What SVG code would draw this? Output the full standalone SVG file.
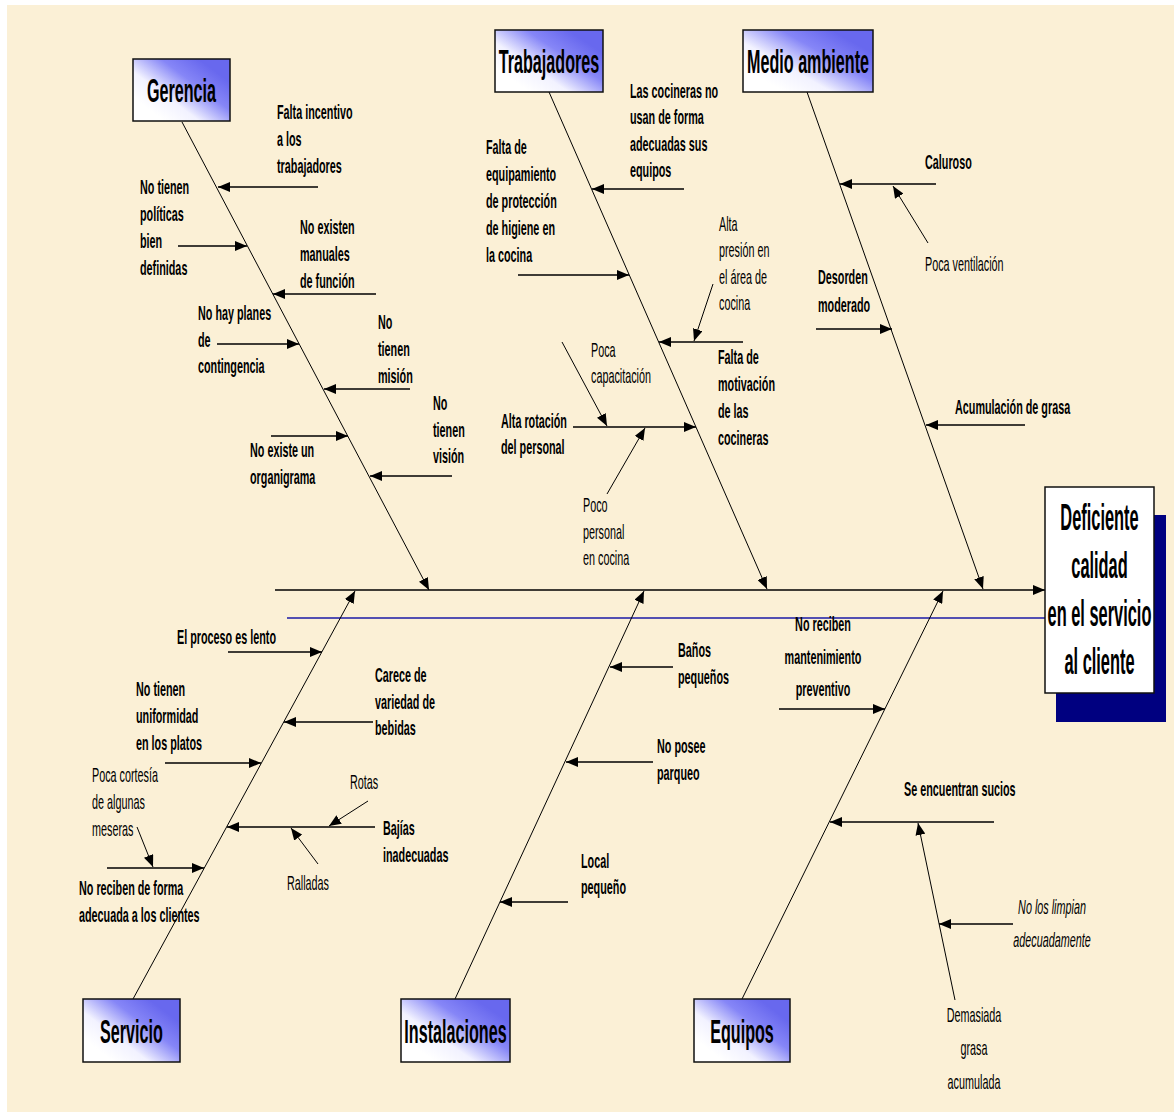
<svg xmlns="http://www.w3.org/2000/svg" width="1174" height="1112" viewBox="0 0 1174 1112">
<defs>
<style>
.b{font-family:"Liberation Sans",Arial,sans-serif;font-weight:bold;font-size:20px;fill:#000}
.r{font-family:"Liberation Sans",Arial,sans-serif;font-weight:normal;font-size:20px;fill:#000}
.i{font-family:"Liberation Sans",Arial,sans-serif;font-style:italic;font-size:20px;fill:#000}
.t{font-family:"Liberation Sans",Arial,sans-serif;font-weight:bold;font-size:34px;fill:#000;text-anchor:middle}
.e{font-family:"Liberation Sans",Arial,sans-serif;font-weight:bold;font-size:37px;fill:#000;text-anchor:middle}
.bone{stroke:#000;stroke-width:1;fill:none;marker-end:url(#ah)}
.arr{stroke:#000;stroke-width:1.6;fill:none;marker-end:url(#ah)}
.thin{stroke:#000;stroke-width:1;fill:none;marker-end:url(#ah)}
.box{fill:url(#cat);stroke:#111;stroke-width:1.5}
</style>
<linearGradient id="cat" x1="0.15" y1="0.8" x2="0.85" y2="0.2">
<stop offset="0" stop-color="#ffffff"/>
<stop offset="0.3" stop-color="#f2f2ff"/>
<stop offset="0.68" stop-color="#8686f7"/>
<stop offset="1" stop-color="#6868ee"/>
</linearGradient>
<marker id="ah" markerUnits="userSpaceOnUse" viewBox="0 0 12 10" refX="12" refY="5" markerWidth="12" markerHeight="10" orient="auto">
<path d="M0,0 L12,5 L0,10 z" fill="#000"/>
</marker>
</defs>

<g id="background">
<rect x="0" y="0" width="1174" height="1112" fill="#ffffff"/>
<rect x="7" y="5" width="1167" height="1107" fill="#fbf0d6"/>
</g>

<g id="connectors">
<line x1="275" y1="590" x2="1045" y2="590" class="arr"/>
<line x1="287" y1="618" x2="1045" y2="618" stroke="#1a1aa6" stroke-width="1.5"/>
<line x1="182" y1="122" x2="429" y2="590" class="bone"/>
<line x1="549" y1="92" x2="767" y2="589" class="bone"/>
<line x1="807" y1="92" x2="983" y2="589" class="bone"/>
<line x1="133" y1="999" x2="355" y2="591" class="bone"/>
<line x1="455" y1="999" x2="644" y2="591" class="bone"/>
<line x1="742" y1="999" x2="943" y2="591" class="bone"/>
<!-- Gerencia -->
<line x1="318" y1="187" x2="218" y2="187" class="arr"/>
<line x1="178" y1="246" x2="247" y2="246" class="arr"/>
<line x1="376" y1="294" x2="273" y2="294" class="arr"/>
<line x1="217" y1="344" x2="299" y2="344" class="arr"/>
<line x1="410" y1="389" x2="324" y2="389" class="arr"/>
<line x1="271" y1="436" x2="348" y2="436" class="arr"/>
<line x1="452" y1="476" x2="370" y2="476" class="arr"/>
<!-- Trabajadores -->
<line x1="684" y1="189" x2="592" y2="189" class="arr"/>
<line x1="518" y1="275" x2="629" y2="275" class="arr"/>
<line x1="743" y1="342" x2="659" y2="342" class="arr"/>
<line x1="713" y1="284" x2="694" y2="341" class="thin"/>
<line x1="573" y1="427" x2="696" y2="427" class="arr"/>
<line x1="562" y1="342" x2="607" y2="426" class="thin"/>
<line x1="607" y1="494" x2="645" y2="428" class="thin"/>
<!-- Medio ambiente -->
<line x1="936" y1="184" x2="840" y2="184" class="arr"/>
<line x1="928" y1="243" x2="893" y2="186" class="thin"/>
<line x1="816" y1="329" x2="892" y2="329" class="arr"/>
<line x1="1025" y1="425" x2="926" y2="425" class="arr"/>
<!-- Servicio -->
<line x1="228" y1="652" x2="322" y2="652" class="arr"/>
<line x1="373" y1="722" x2="284" y2="722" class="arr"/>
<line x1="165" y1="763" x2="261" y2="763" class="arr"/>
<line x1="375" y1="827" x2="227" y2="827" class="arr"/>
<line x1="368" y1="801" x2="329" y2="826" class="thin"/>
<line x1="318" y1="864" x2="291" y2="828" class="thin"/>
<line x1="107" y1="868" x2="204" y2="868" class="arr"/>
<line x1="137" y1="827" x2="153" y2="867" class="thin"/>
<!-- Instalaciones -->
<line x1="673" y1="667" x2="610" y2="667" class="arr"/>
<line x1="653" y1="762" x2="566" y2="762" class="arr"/>
<line x1="568" y1="902" x2="500" y2="902" class="arr"/>
<!-- Equipos -->
<line x1="779" y1="709" x2="885" y2="709" class="arr"/>
<line x1="994" y1="822" x2="830" y2="822" class="arr"/>
<line x1="955" y1="1000" x2="918" y2="823" class="thin"/>
<line x1="1013" y1="924" x2="939" y2="924" class="arr"/>
</g>

<g id="node-gerencia">
<rect x="133" y="59" width="97" height="62" class="box"/>
<text class="t" transform="translate(181.5,102) scale(0.475,1)">Gerencia</text>
</g>
<g id="node-trabajadores">
<rect x="495" y="30" width="108" height="62" class="box"/>
<text class="t" transform="translate(549,73) scale(0.475,1)">Trabajadores</text>
</g>
<g id="node-medio-ambiente">
<rect x="743" y="30" width="130" height="62" class="box"/>
<text class="t" transform="translate(808,73) scale(0.475,1)">Medio ambiente</text>
</g>
<g id="node-servicio">
<rect x="83" y="999" width="97" height="63" class="box"/>
<text class="t" transform="translate(131.5,1043) scale(0.475,1)">Servicio</text>
</g>
<g id="node-instalaciones">
<rect x="401" y="999" width="109" height="63" class="box"/>
<text class="t" transform="translate(455.5,1043) scale(0.475,1)">Instalaciones</text>
</g>
<g id="node-equipos">
<rect x="694" y="999" width="96" height="63" class="box"/>
<text class="t" transform="translate(742,1043) scale(0.475,1)">Equipos</text>
</g>
<g id="node-efecto">
<rect x="1056" y="515" width="110" height="207" fill="#000080"/>
<rect x="1045" y="487" width="109" height="206" fill="#ffffff" stroke="#111" stroke-width="1.5"/>
<text class="e" transform="translate(1099.5,530) scale(0.443,1)"><tspan x="0">Deficiente</tspan><tspan x="0" dy="48">calidad</tspan><tspan x="0" dy="48">en el servicio</tspan><tspan x="0" dy="48">al cliente</tspan></text>
</g>

<g id="causes-gerencia">
<text class="b" transform="translate(277,119) scale(0.54,1)"><tspan x="0">Falta incentivo</tspan><tspan x="0" dy="27">a los</tspan><tspan x="0" dy="27">trabajadores</tspan></text>
<text class="b" transform="translate(140,194) scale(0.54,1)"><tspan x="0">No tienen</tspan><tspan x="0" dy="27">políticas</tspan><tspan x="0" dy="27">bien</tspan><tspan x="0" dy="27">definidas</tspan></text>
<text class="b" transform="translate(300,234) scale(0.54,1)"><tspan x="0">No existen</tspan><tspan x="0" dy="27">manuales</tspan><tspan x="0" dy="27">de función</tspan></text>
<text class="b" transform="translate(198,320) scale(0.54,1)"><tspan x="0">No hay planes</tspan><tspan x="0" dy="27">de</tspan><tspan x="0" dy="26">contingencia</tspan></text>
<text class="b" transform="translate(378,329) scale(0.54,1)"><tspan x="0">No</tspan><tspan x="0" dy="27">tienen</tspan><tspan x="0" dy="27">misión</tspan></text>
<text class="b" transform="translate(250,457) scale(0.54,1)"><tspan x="0">No existe un</tspan><tspan x="0" dy="27">organigrama</tspan></text>
<text class="b" transform="translate(433,410) scale(0.54,1)"><tspan x="0">No</tspan><tspan x="0" dy="27">tienen</tspan><tspan x="0" dy="26">visión</tspan></text>
</g>

<g id="causes-trabajadores">
<text class="b" transform="translate(630,98) scale(0.54,1)"><tspan x="0">Las cocineras no</tspan><tspan x="0" dy="26.5">usan de forma</tspan><tspan x="0" dy="26.5">adecuadas sus</tspan><tspan x="0" dy="26.5">equipos</tspan></text>
<text class="b" transform="translate(486,154) scale(0.54,1)"><tspan x="0">Falta de</tspan><tspan x="0" dy="27">equipamiento</tspan><tspan x="0" dy="27">de protección</tspan><tspan x="0" dy="27">de higiene en</tspan><tspan x="0" dy="27">la cocina</tspan></text>
<text class="r" transform="translate(719,231) scale(0.54,1)"><tspan x="0">Alta</tspan><tspan x="0" dy="26.5">presión en</tspan><tspan x="0" dy="26.5">el área de</tspan><tspan x="0" dy="26.5">cocina</tspan></text>
<text class="b" transform="translate(718,364) scale(0.54,1)"><tspan x="0">Falta de</tspan><tspan x="0" dy="27">motivación</tspan><tspan x="0" dy="27">de las</tspan><tspan x="0" dy="27">cocineras</tspan></text>
<text class="b" transform="translate(501,428) scale(0.54,1)"><tspan x="0">Alta rotación</tspan><tspan x="0" dy="26">del personal</tspan></text>
<text class="r" transform="translate(591,357) scale(0.54,1)"><tspan x="0">Poca</tspan><tspan x="0" dy="26">capacitación</tspan></text>
<text class="r" transform="translate(583,512) scale(0.54,1)"><tspan x="0">Poco</tspan><tspan x="0" dy="27">personal</tspan><tspan x="0" dy="26">en cocina</tspan></text>
</g>

<g id="causes-medio-ambiente">
<text class="b" transform="translate(925,169) scale(0.54,1)">Caluroso</text>
<text class="r" transform="translate(925,271) scale(0.54,1)">Poca ventilación</text>
<text class="b" transform="translate(818,284) scale(0.54,1)"><tspan x="0">Desorden</tspan><tspan x="0" dy="28">moderado</tspan></text>
<text class="b" transform="translate(955,414) scale(0.54,1)">Acumulación de grasa</text>
</g>

<g id="causes-servicio">
<text class="b" transform="translate(177,644) scale(0.54,1)">El proceso es lento</text>
<text class="b" transform="translate(375,682) scale(0.54,1)"><tspan x="0">Carece de</tspan><tspan x="0" dy="27">variedad de</tspan><tspan x="0" dy="26">bebidas</tspan></text>
<text class="b" transform="translate(136,696) scale(0.54,1)"><tspan x="0">No tienen</tspan><tspan x="0" dy="27">uniformidad</tspan><tspan x="0" dy="27">en los platos</tspan></text>
<text class="r" transform="translate(92,782) scale(0.54,1)"><tspan x="0">Poca cortesía</tspan><tspan x="0" dy="27">de algunas</tspan><tspan x="0" dy="27">meseras</tspan></text>
<text class="r" transform="translate(350,789) scale(0.54,1)">Rotas</text>
<text class="b" transform="translate(383,835) scale(0.54,1)"><tspan x="0">Bajías</tspan><tspan x="0" dy="27">inadecuadas</tspan></text>
<text class="r" transform="translate(287,890) scale(0.54,1)">Ralladas</text>
<text class="b" transform="translate(79,895) scale(0.54,1)"><tspan x="0">No reciben de forma</tspan><tspan x="0" dy="27">adecuada a los clientes</tspan></text>
</g>

<g id="causes-instalaciones">
<text class="b" transform="translate(678,657) scale(0.54,1)"><tspan x="0">Baños</tspan><tspan x="0" dy="27">pequeños</tspan></text>
<text class="b" transform="translate(657,753) scale(0.54,1)"><tspan x="0">No posee</tspan><tspan x="0" dy="27">parqueo</tspan></text>
<text class="b" transform="translate(581,868) scale(0.54,1)"><tspan x="0">Local</tspan><tspan x="0" dy="26">pequeño</tspan></text>
</g>

<g id="causes-equipos">
<text class="b" transform="translate(823,631) scale(0.54,1)" text-anchor="middle"><tspan x="0">No reciben</tspan><tspan x="0" dy="33">mantenimiento</tspan><tspan x="0" dy="32">preventivo</tspan></text>
<text class="b" transform="translate(904,796) scale(0.54,1)">Se encuentran sucios</text>
<text class="i" transform="translate(1052,914) scale(0.54,1)" text-anchor="middle"><tspan x="0">No los limpian</tspan><tspan x="0" dy="33">adecuadamente</tspan></text>
<text class="r" transform="translate(974,1022) scale(0.54,1)" text-anchor="middle"><tspan x="0">Demasiada</tspan><tspan x="0" dy="33">grasa</tspan><tspan x="0" dy="34">acumulada</tspan></text>
</g>
</svg>
